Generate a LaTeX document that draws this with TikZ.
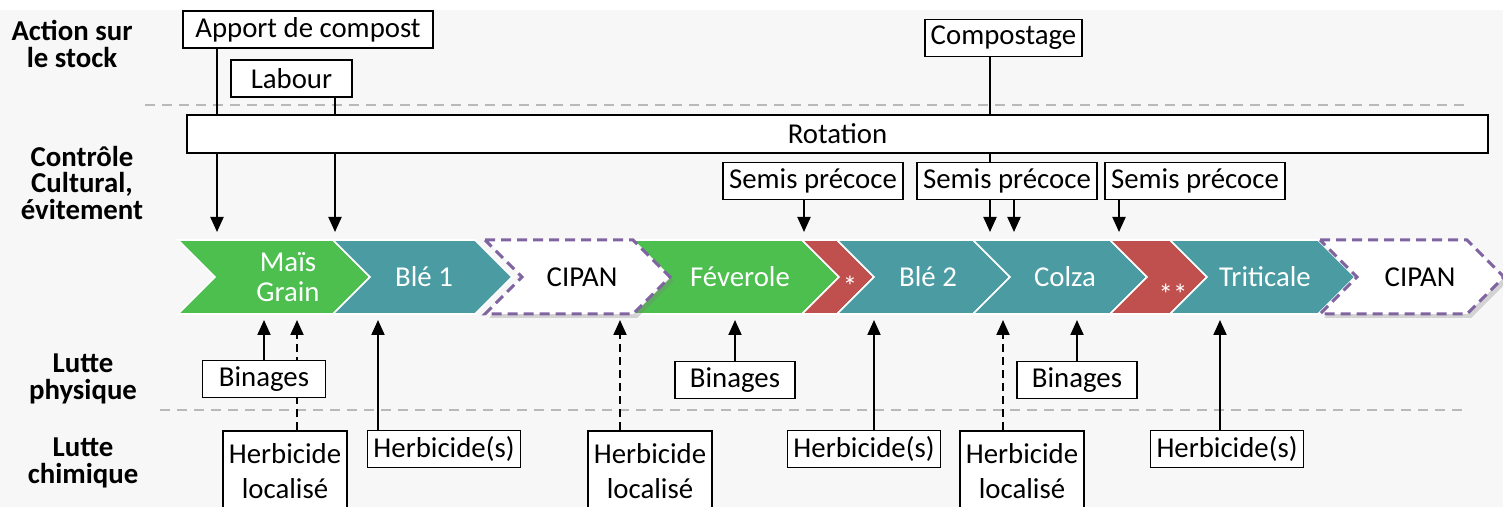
\documentclass[tikz,border=0pt]{standalone}
\usepackage{fontspec}
\setmainfont{Carlito}
\usetikzlibrary{arrows.meta,shadows}
\definecolor{vert}{HTML}{4CBF4F}
\definecolor{bleu}{HTML}{4A9BA2}
\definecolor{rouge}{HTML}{C0504D}
\definecolor{violet}{HTML}{8064A2}
\definecolor{fond}{HTML}{F7F7F7}
\tikzset{
  boite/.style={draw, line width=0.9pt, fill=white, inner xsep=3pt, inner ysep=0pt, minimum height=18.5pt, align=center},
  fleche/.style={line width=1pt, -{Triangle[width=6.5pt,length=7.5pt]}},
  pointille/.style={dash pattern=on 4pt off 2.5pt},
  separation/.style={gray!55, line width=1pt, dash pattern=on 5pt off 3.5pt},
  titre/.style={font=\fontsize{14.4}{13.2}\selectfont\bfseries, align=center},
  culture/.style={text=white, align=center, font=\fontsize{14.4}{15}\selectfont},
  interculture/.style={fill=white, draw=violet, line width=1.5pt, dash pattern=on 5pt off 3pt,
    drop shadow={opacity=0.3, shadow xshift=2pt, shadow yshift=-2pt}},
}
% chevron : x haut gauche, x haut droit, style
\newcommand{\chevron}[3]{%
  \path[#3] (#1,240) -- (#2,240) -- ++(37,37) -- (#2,314) -- (#1,314) -- ++(37,-37) -- cycle;}
\begin{document}
\begin{tikzpicture}[x=0.5pt, y=-0.5pt, font=\fontsize{14.4}{17.5}\selectfont]
	\useasboundingbox (0,0) rectangle (1503,507);
	\clip (0,0) rectangle (1503,507);
	\fill[fond] (0,10) rectangle (1503,507);
	\draw[separation] (145,105) -- (1470,105);
	\draw[separation] (160,410) -- (1466,410);

	% titres des niveaux
	\node[titre] (stock) at (72,44) {Action sur\\le stock};
	\node[titre] (cultural) at (82,183) {Contrôle\\Cultural,\\évitement};
	\node[titre] (physique) at (83,379) {Lutte\\physique};
	\node[titre] (chimique) at (83,463) {Lutte\\chimique};

	% la rotation
	\chevron{178}{333}{fill=vert, draw=white, line width=0.8pt}
	\chevron{333}{475}{fill=bleu, draw=white, line width=0.8pt}
	\chevron{633}{802}{fill=vert, draw=white, line width=0.8pt}
	\chevron{485}{633}{interculture}
	\chevron{802}{837}{fill=rouge, draw=white, line width=0.8pt}
	\chevron{837}{973}{fill=bleu, draw=white, line width=0.8pt}
	\chevron{973}{1110}{fill=bleu, draw=white, line width=0.8pt}
	\chevron{1110}{1170}{fill=rouge, draw=white, line width=0.8pt}
	\chevron{1170}{1318}{fill=bleu, draw=white, line width=0.8pt}
	\chevron{1320}{1467}{interculture}
	\node[culture] (mais) at (288,277) {Maïs\\Grain};
	\node[culture] (ble1) at (424,277) {Blé 1};
	\node (cipan1) at (582,277) {CIPAN};
	\node[culture] (feve) at (740,277) {Féverole};
	\node[culture] (etoile1) at (850,286) {*};
	\node[culture] (etoile2) at (1173,294) {**};
	\node[culture] (ble2) at (928,277) {Blé 2};
	\node[culture] (colza) at (1065,277) {Colza};
	\node[culture] (triti) at (1265,277) {Triticale};
	\node (cipan2) at (1420,277) {CIPAN};

	% action sur le stock
	\node[boite, minimum width=125pt] (apport) at (308,29.5) {Apport de compost};
	\node[boite, minimum width=60.5pt] (labour) at (291.5,78.5) {Labour};
	\node[boite] (compost) at (1003.5,38) {Compostage};
	\coordinate (hA) at (217,232);
	\coordinate (hL) at (335,232);
	\coordinate (hC) at (990,232);
	\draw[fleche] (apport.south -| hA) -- (hA);
	\draw[fleche] (labour.south -| hL) -- (hL);
	\draw[fleche] (compost.south -| hC) -- (hC);

	% controle cultural
	\node[boite, minimum width=650.5pt, minimum height=19pt] (rotation) at (837.5,134) {Rotation};
	\node[boite] (semis1) at (813,181) {Semis précoce};
	\node[boite] (semis2) at (1007,181) {Semis précoce};
	\node[boite] (semis3) at (1195,181) {Semis précoce};
	\coordinate (hS1) at (804,232);
	\coordinate (hS2) at (1014,232);
	\coordinate (hS3) at (1119,232);
	\draw[fleche] (semis1.south -| hS1) -- (hS1);
	\draw[fleche] (semis2.south -| hS2) -- (hS2);
	\draw[fleche] (semis3.south -| hS3) -- (hS3);

	% lutte chimique
	\node[boite, anchor=north, minimum height=40pt] (loc1) at (285,430) {Herbicide\\localisé};
	\node[boite, anchor=north, minimum height=40pt] (loc2) at (650,430) {Herbicide\\localisé};
	\node[boite, anchor=north, minimum height=40pt] (loc3) at (1022,430) {Herbicide\\localisé};
	\node[boite] (herb1) at (444,449) {Herbicide(s)};
	\node[boite] (herb2) at (864,449) {Herbicide(s)};
	\node[boite] (herb3) at (1227,449) {Herbicide(s)};
	\coordinate (bD1) at (297,320);
	\coordinate (bD2) at (620,320);
	\coordinate (bD3) at (1003,320);
	\coordinate (bH1) at (378,320);
	\coordinate (bH2) at (874,320);
	\coordinate (bH3) at (1220,320);
	\draw[fleche, pointille] (loc1.north -| bD1) -- (bD1);
	\draw[fleche, pointille] (loc2.north -| bD2) -- (bD2);
	\draw[fleche, pointille] (loc3.north -| bD3) -- (bD3);
	\draw[fleche] (herb1.north -| bH1) -- (bH1);
	\draw[fleche] (herb2.north -| bH2) -- (bH2);
	\draw[fleche] (herb3.north -| bH3) -- (bH3);

	% lutte physique
	\node[boite, minimum width=61.5pt] (bin1) at (264,379) {Binages};
	\node[boite, minimum width=60pt] (bin2) at (735,380) {Binages};
	\node[boite, minimum width=60pt] (bin3) at (1077,380) {Binages};
	\coordinate (bB1) at (264,320);
	\coordinate (bB2) at (735,320);
	\coordinate (bB3) at (1077,320);
	\draw[fleche] (bin1.north -| bB1) -- (bB1);
	\draw[fleche] (bin2.north -| bB2) -- (bB2);
	\draw[fleche] (bin3.north -| bB3) -- (bB3);
\end{tikzpicture}
\end{document}
